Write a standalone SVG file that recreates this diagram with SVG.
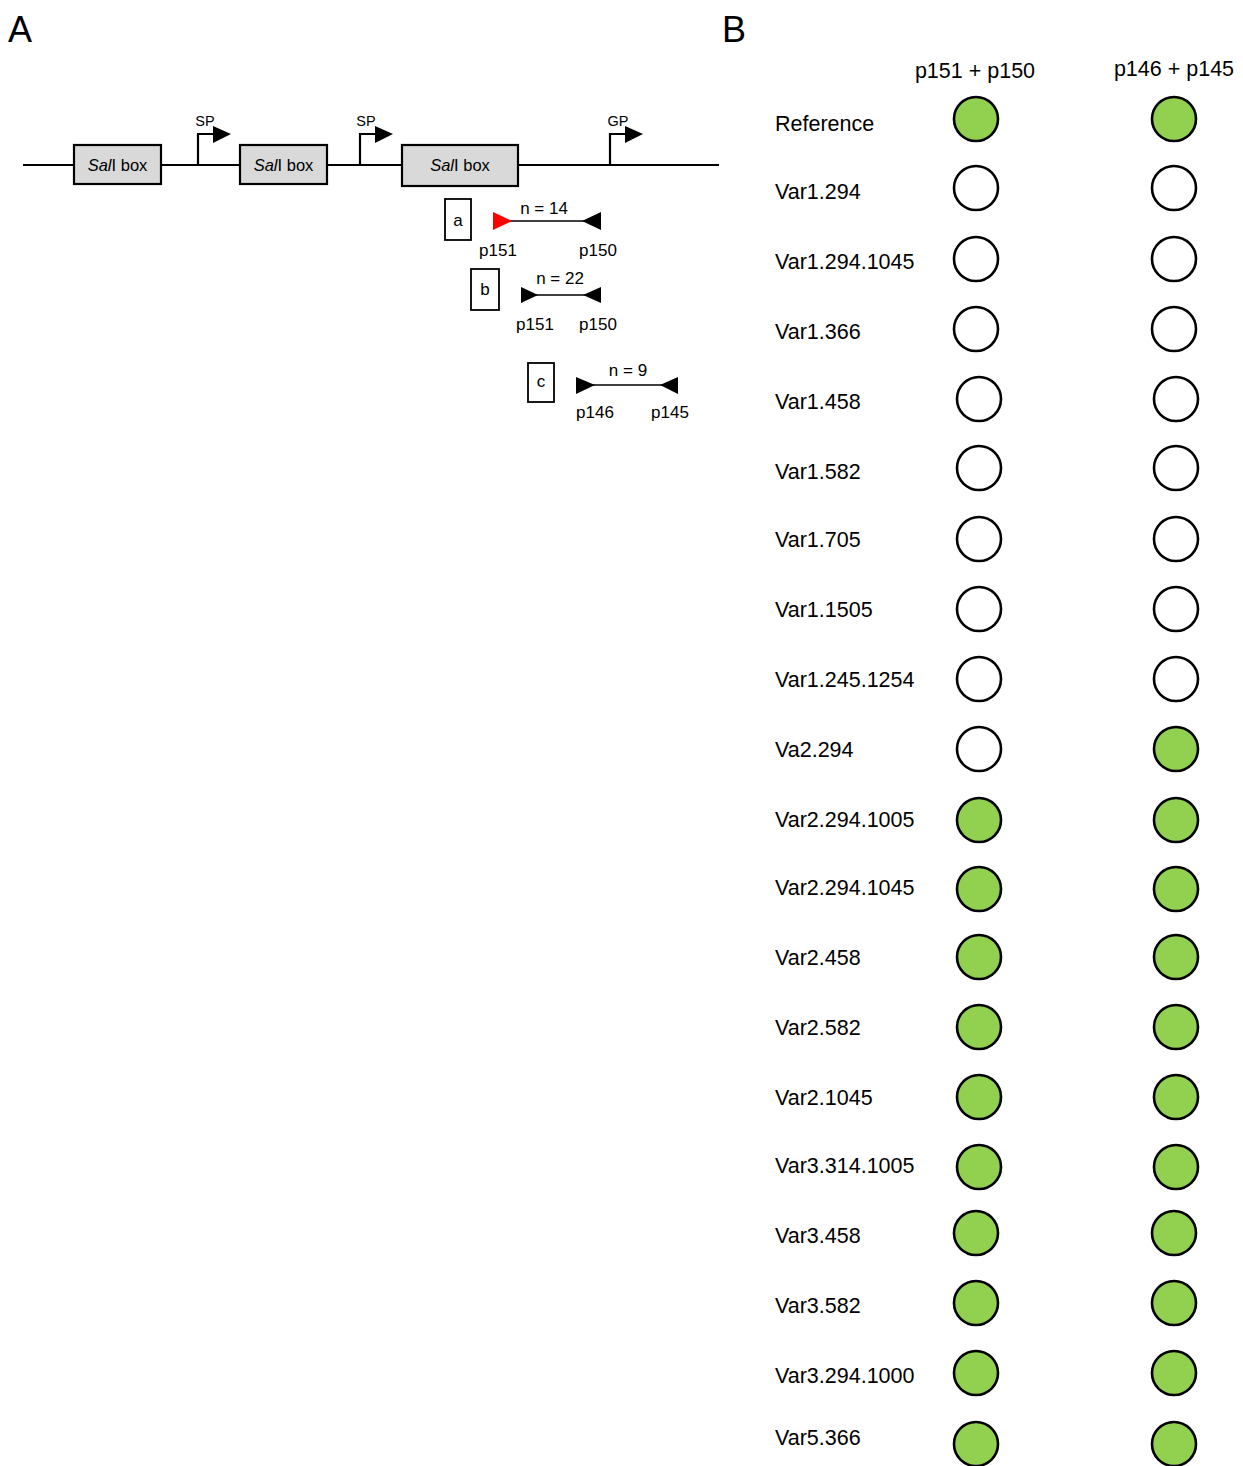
<svg xmlns="http://www.w3.org/2000/svg" width="1243" height="1466" viewBox="0 0 1243 1466">
<style>
text{font-family:"Liberation Sans",Arial,sans-serif;fill:#000}
.pl{font-size:36px}
.lab{font-size:21.5px}
.sm{font-size:17px}
.bx{font-size:16.5px}
.tiny{font-size:14.5px}
.box{fill:#d9d9d9;stroke:#000;stroke-width:2.2}
.ln{stroke:#000;stroke-width:2.2;fill:none}
.thin{stroke:#000;stroke-width:1.3;fill:none}
.frame{fill:#fff;stroke:#000;stroke-width:1.8}
.pos{fill:#92d050;stroke:#000;stroke-width:2.6}
.neg{fill:#fff;stroke:#000;stroke-width:2.6}
</style>
<rect width="1243" height="1466" fill="#fff"/>
<text class="pl" x="8" y="42">A</text>
<text class="pl" x="722" y="42">B</text>

<g id="connectors">
<line class="ln" x1="23" y1="165" x2="719" y2="165"/>
<polyline class="ln" points="198,165 198,134 215,134"/>
<polygon points="213,126 231,134 213,143" fill="#000"/>
<polyline class="ln" points="360,165 360,134 377,134"/>
<polygon points="375,126 393,134 375,143" fill="#000"/>
<polyline class="ln" points="610,165 610,134 627,134"/>
<polygon points="625,126 643,134 625,143" fill="#000"/>
</g>

<g id="sal1"><rect class="box" x="74" y="145" width="87" height="39"/><text class="bx" x="117.5" y="171" text-anchor="middle"><tspan font-style="italic">Sal</tspan>I box</text></g>
<g id="sal2"><rect class="box" x="240" y="145" width="87" height="39"/><text class="bx" x="283.5" y="171" text-anchor="middle"><tspan font-style="italic">Sal</tspan>I box</text></g>
<g id="sal3"><rect class="box" x="402" y="145" width="116" height="41"/><text class="bx" x="460" y="171" text-anchor="middle"><tspan font-style="italic">Sal</tspan>I box</text></g>
<g id="sp1"><text class="tiny" x="205" y="126" text-anchor="middle">SP</text></g>
<g id="sp2"><text class="tiny" x="366" y="126" text-anchor="middle">SP</text></g>
<g id="gp"><text class="tiny" x="618" y="126" text-anchor="middle">GP</text></g>

<g id="primer-a">
<rect class="frame" x="445" y="199" width="26" height="41"/>
<text class="sm" x="458" y="226" text-anchor="middle">a</text>
<line class="thin" x1="510" y1="221" x2="584" y2="221"/>
<polygon points="493,212 512,221 493,230" fill="#ff0000"/>
<polygon points="601,212 582,221 601,230" fill="#000"/>
<text class="sm" x="544" y="214" text-anchor="middle">n = 14</text>
<text class="sm" x="498" y="256" text-anchor="middle">p151</text>
<text class="sm" x="598" y="256" text-anchor="middle">p150</text>
</g>
<g id="primer-b">
<rect class="frame" x="471" y="269" width="28" height="41"/>
<text class="sm" x="485" y="295" text-anchor="middle">b</text>
<line class="thin" x1="536" y1="295" x2="585" y2="295"/>
<polygon points="521,287 538,295 521,303" fill="#000"/>
<polygon points="601,287 583,295 601,303" fill="#000"/>
<text class="sm" x="560" y="284" text-anchor="middle">n = 22</text>
<text class="sm" x="535" y="330" text-anchor="middle">p151</text>
<text class="sm" x="598" y="330" text-anchor="middle">p150</text>
</g>
<g id="primer-c">
<rect class="frame" x="528" y="363" width="26" height="39"/>
<text class="sm" x="541" y="387" text-anchor="middle">c</text>
<line class="thin" x1="593" y1="385" x2="662" y2="385"/>
<polygon points="576,377 595,385 576,394" fill="#000"/>
<polygon points="678,377 660,385 678,394" fill="#000"/>
<text class="sm" x="628" y="376" text-anchor="middle">n = 9</text>
<text class="sm" x="595" y="418" text-anchor="middle">p146</text>
<text class="sm" x="670" y="418" text-anchor="middle">p145</text>
</g>

<g id="headers">
<text class="lab" x="975" y="78" text-anchor="middle">p151 + p150</text>
<text class="lab" x="1174" y="76" text-anchor="middle">p146 + p145</text>
</g>

<g id="row-reference"><text class="lab" x="775" y="131">Reference</text><circle class="pos" cx="976" cy="119" r="22"/><circle class="pos" cx="1174" cy="119" r="22"/></g>
<g id="row-var1-294"><text class="lab" x="775" y="199">Var1.294</text><circle class="neg" cx="976" cy="188" r="22"/><circle class="neg" cx="1174" cy="188" r="22"/></g>
<g id="row-var1-294-1045"><text class="lab" x="775" y="269">Var1.294.1045</text><circle class="neg" cx="976" cy="259" r="22"/><circle class="neg" cx="1174" cy="259" r="22"/></g>
<g id="row-var1-366"><text class="lab" x="775" y="339">Var1.366</text><circle class="neg" cx="976" cy="329" r="22"/><circle class="neg" cx="1174" cy="329" r="22"/></g>
<g id="row-var1-458"><text class="lab" x="775" y="409">Var1.458</text><circle class="neg" cx="979" cy="399" r="22"/><circle class="neg" cx="1176" cy="399" r="22"/></g>
<g id="row-var1-582"><text class="lab" x="775" y="479">Var1.582</text><circle class="neg" cx="979" cy="468" r="22"/><circle class="neg" cx="1176" cy="468" r="22"/></g>
<g id="row-var1-705"><text class="lab" x="775" y="547">Var1.705</text><circle class="neg" cx="979" cy="539" r="22"/><circle class="neg" cx="1176" cy="539" r="22"/></g>
<g id="row-var1-1505"><text class="lab" x="775" y="617">Var1.1505</text><circle class="neg" cx="979" cy="609" r="22"/><circle class="neg" cx="1176" cy="609" r="22"/></g>
<g id="row-var1-245-1254"><text class="lab" x="775" y="687">Var1.245.1254</text><circle class="neg" cx="979" cy="679" r="22"/><circle class="neg" cx="1176" cy="679" r="22"/></g>
<g id="row-va2-294"><text class="lab" x="775" y="757">Va2.294</text><circle class="neg" cx="979" cy="749" r="22"/><circle class="pos" cx="1176" cy="749" r="22"/></g>
<g id="row-var2-294-1005"><text class="lab" x="775" y="827">Var2.294.1005</text><circle class="pos" cx="979" cy="820" r="22"/><circle class="pos" cx="1176" cy="820" r="22"/></g>
<g id="row-var2-294-1045"><text class="lab" x="775" y="895">Var2.294.1045</text><circle class="pos" cx="979" cy="889" r="22"/><circle class="pos" cx="1176" cy="889" r="22"/></g>
<g id="row-var2-458"><text class="lab" x="775" y="965">Var2.458</text><circle class="pos" cx="979" cy="957" r="22"/><circle class="pos" cx="1176" cy="957" r="22"/></g>
<g id="row-var2-582"><text class="lab" x="775" y="1035">Var2.582</text><circle class="pos" cx="979" cy="1027" r="22"/><circle class="pos" cx="1176" cy="1027" r="22"/></g>
<g id="row-var2-1045"><text class="lab" x="775" y="1105">Var2.1045</text><circle class="pos" cx="979" cy="1097" r="22"/><circle class="pos" cx="1176" cy="1097" r="22"/></g>
<g id="row-var3-314-1005"><text class="lab" x="775" y="1173">Var3.314.1005</text><circle class="pos" cx="979" cy="1167" r="22"/><circle class="pos" cx="1176" cy="1167" r="22"/></g>
<g id="row-var3-458"><text class="lab" x="775" y="1243">Var3.458</text><circle class="pos" cx="976" cy="1233" r="22"/><circle class="pos" cx="1174" cy="1233" r="22"/></g>
<g id="row-var3-582"><text class="lab" x="775" y="1313">Var3.582</text><circle class="pos" cx="976" cy="1303" r="22"/><circle class="pos" cx="1174" cy="1303" r="22"/></g>
<g id="row-var3-294-1000"><text class="lab" x="775" y="1383">Var3.294.1000</text><circle class="pos" cx="976" cy="1373" r="22"/><circle class="pos" cx="1174" cy="1373" r="22"/></g>
<g id="row-var5-366"><text class="lab" x="775" y="1445">Var5.366</text><circle class="pos" cx="976" cy="1444" r="22"/><circle class="pos" cx="1174" cy="1444" r="22"/></g>
</svg>
